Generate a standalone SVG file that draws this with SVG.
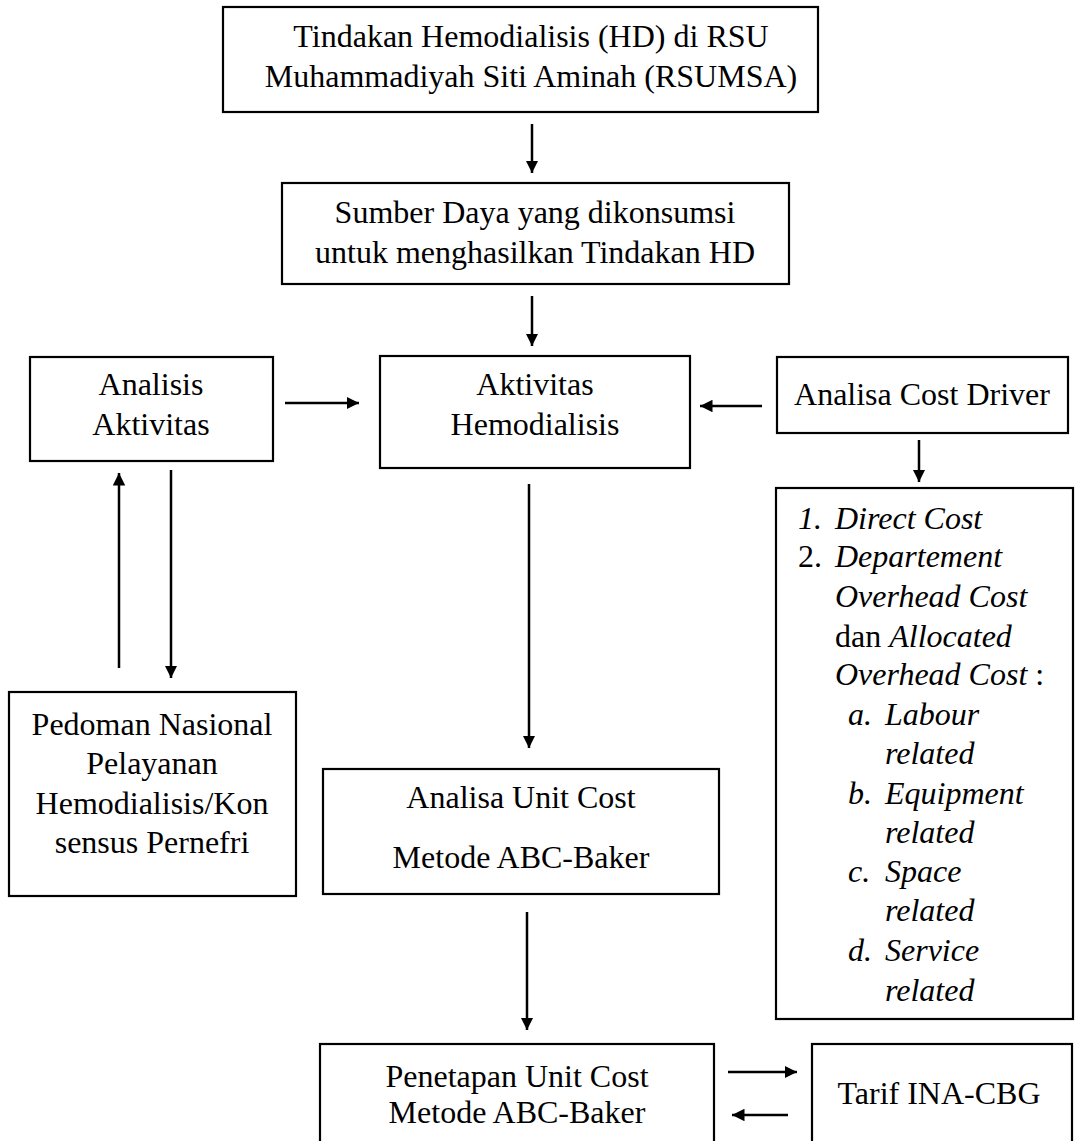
<svg xmlns="http://www.w3.org/2000/svg" width="1076" height="1141" viewBox="0 0 1076 1141">
<defs>
<marker id="ah" viewBox="0 0 10 10" refX="10" refY="5" markerWidth="5" markerHeight="5" markerUnits="strokeWidth" orient="auto">
<path d="M0,0 L10,5 L0,10 z" fill="#000"/>
</marker>
</defs>
<style>
.box{fill:#fff;stroke:#000;stroke-width:2.2}
text{font-family:"Liberation Serif","Times New Roman",serif;font-size:32px;fill:#000}
.c{text-anchor:middle}
.i{font-style:italic}
.con line{stroke:#000;stroke-width:2.5;marker-end:url(#ah)}
</style>
<rect width="1076" height="1141" fill="#fff"/>
<g id="n1"><rect class="box" x="223" y="7" width="595" height="105"/>
<text class="c" x="531" y="47">Tindakan Hemodialisis (HD) di RSU</text>
<text class="c" x="531" y="87">Muhammadiyah Siti Aminah (RSUMSA)</text></g>
<g id="n2"><rect class="box" x="282" y="183" width="507" height="101"/>
<text class="c" x="535" y="223">Sumber Daya yang dikonsumsi</text>
<text class="c" x="535" y="263">untuk menghasilkan Tindakan HD</text></g>
<g id="n3"><rect class="box" x="380" y="356" width="310" height="112"/>
<text class="c" x="535" y="395">Aktivitas</text>
<text class="c" x="535" y="435">Hemodialisis</text></g>
<g id="n4"><rect class="box" x="30" y="357" width="243" height="104"/>
<text class="c" x="151" y="395">Analisis</text>
<text class="c" x="151" y="435">Aktivitas</text></g>
<g id="n5"><rect class="box" x="777" y="357" width="291" height="76"/>
<text class="c" x="922" y="405">Analisa Cost Driver</text></g>
<g id="n6"><rect class="box" x="776" y="488" width="297" height="531"/>
<text x="798" y="529" class="i">1.</text><text x="835" y="529" class="i">Direct Cost</text>
<text x="798" y="567">2.</text><text x="835" y="567" class="i">Departement</text>
<text x="835" y="607" class="i">Overhead Cost</text>
<text x="835" y="647">dan <tspan class="i">Allocated</tspan></text>
<text x="835" y="685"><tspan class="i">Overhead Cost</tspan> :</text>
<text x="848" y="725" class="i">a.</text><text x="885" y="725" class="i">Labour</text>
<text x="885" y="764" class="i">related</text>
<text x="848" y="804" class="i">b.</text><text x="885" y="804" class="i">Equipment</text>
<text x="885" y="843" class="i">related</text>
<text x="848" y="882" class="i">c.</text><text x="885" y="882" class="i">Space</text>
<text x="885" y="921" class="i">related</text>
<text x="848" y="961" class="i">d.</text><text x="885" y="961" class="i">Service</text>
<text x="885" y="1001" class="i">related</text></g>
<g id="n7"><rect class="box" x="9" y="692" width="287" height="204"/>
<text class="c" x="152" y="735">Pedoman Nasional</text>
<text class="c" x="152" y="774">Pelayanan</text>
<text class="c" x="152" y="814">Hemodialisis/Kon</text>
<text class="c" x="152" y="853">sensus Pernefri</text></g>
<g id="n8"><rect class="box" x="323" y="769" width="396" height="125"/>
<text class="c" x="521" y="808">Analisa Unit Cost</text>
<text class="c" x="521" y="868">Metode ABC-Baker</text></g>
<g id="n9"><rect class="box" x="320" y="1044" width="394" height="120"/>
<text class="c" x="517" y="1087">Penetapan Unit Cost</text>
<text class="c" x="517" y="1123">Metode ABC-Baker</text></g>
<g id="n10"><rect class="box" x="812" y="1044" width="260" height="120"/>
<text class="c" x="939" y="1104">Tarif INA-CBG</text></g>
<g class="con" id="connectors">
<line x1="532" y1="124" x2="532" y2="173"/>
<line x1="532" y1="296" x2="532" y2="346"/>
<line x1="285" y1="403" x2="359" y2="403"/>
<line x1="762" y1="406" x2="700" y2="406"/>
<line x1="919" y1="440" x2="919" y2="482"/>
<line x1="119" y1="668" x2="119" y2="473"/>
<line x1="171" y1="470" x2="171" y2="678"/>
<line x1="529" y1="484" x2="529" y2="748"/>
<line x1="527" y1="912" x2="527" y2="1030"/>
<line x1="728" y1="1072" x2="797" y2="1072"/>
<line x1="788" y1="1115" x2="732" y2="1115"/>
</g>
</svg>
